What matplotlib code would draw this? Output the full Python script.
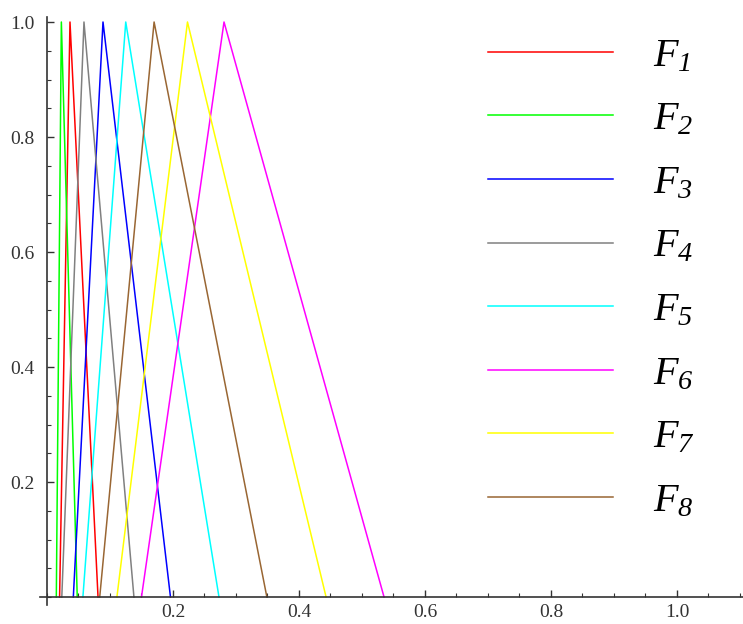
import matplotlib
matplotlib.use("Agg")
import matplotlib.pyplot as plt
from matplotlib.ticker import MultipleLocator

# Triangular fuzzy sets: (left foot, peak, right foot)
names = ["F1", "F2", "F3", "F4", "F5", "F6", "F7", "F8"]
left_feet = [0.020, 0.0148, 0.0418, 0.0235, 0.057, 0.150, 0.111, 0.0837]
peaks = [0.0365, 0.0228, 0.0889, 0.0587, 0.125, 0.281, 0.223, 0.170]
right_feet = [0.081, 0.048, 0.196, 0.138, 0.273, 0.535, 0.443, 0.349]
colors = ["#ff0000", "#00ff00", "#0000ff", "#808080",
          "#00ffff", "#ff00ff", "#ffff00", "#996633"]

# Times-like italic for the legend labels (digits too, they use the rm slot)
plt.rcParams["mathtext.fontset"] = "custom"
plt.rcParams["mathtext.rm"] = "Liberation Serif:italic"
plt.rcParams["mathtext.it"] = "Liberation Serif:italic"

fig = plt.figure(figsize=(7.43, 6.24), dpi=100)
ax = fig.add_axes([40 / 743, 19 / 624, 703 / 743, 588 / 624])

# Draw each triangle
for name, a, b, c, col in zip(names, left_feet, peaks, right_feet, colors):
    ax.plot([a, b, c], [0, 1, 0], color=col, lw=1.1,
            label=r"$F_{" + name[1:] + "}$")

ax.set_xlim(-0.0111, 1.1048)
ax.set_ylim(-0.0139, 1.0087)

# Mathematica-like axes crossing at the origin
for side in ["top", "right"]:
    ax.spines[side].set_visible(False)
ax.spines["left"].set_position(("data", 0))
ax.spines["bottom"].set_position(("data", 0))
for side in ["left", "bottom"]:
    ax.spines[side].set_color("#333333")
    ax.spines[side].set_linewidth(1.2)

ax.xaxis.set_minor_locator(MultipleLocator(0.05))
ax.yaxis.set_minor_locator(MultipleLocator(0.05))
ax.set_xticks([0.2, 0.4, 0.6, 0.8, 1.0])
ax.set_xticklabels(["0.2", "0.4", "0.6", "0.8", "1.0"])
ax.set_yticks([0.2, 0.4, 0.6, 0.8, 1.0])
ax.set_yticklabels(["0.2", "0.4", "0.6", "0.8", "1.0"])
ax.tick_params(which="major", direction="in", length=5, width=1,
               color="#333333", labelsize=14, labelcolor="#333333")
ax.tick_params(which="minor", direction="in", length=3, width=0.8,
               color="#333333")
ax.tick_params(axis="y", pad=9)
ax.tick_params(axis="x", pad=5)
for lab in ax.get_xticklabels() + ax.get_yticklabels():
    lab.set_family("Liberation Serif")

ax.legend(loc="upper left", bbox_to_anchor=(488 / 743, 1 - 35 / 624),
          bbox_transform=fig.transFigure, frameon=False, fontsize=29,
          handlelength=3.1, handletextpad=1.0, labelspacing=0.585,
          borderpad=0, borderaxespad=0)

fig.savefig("out.png", dpi=100)
